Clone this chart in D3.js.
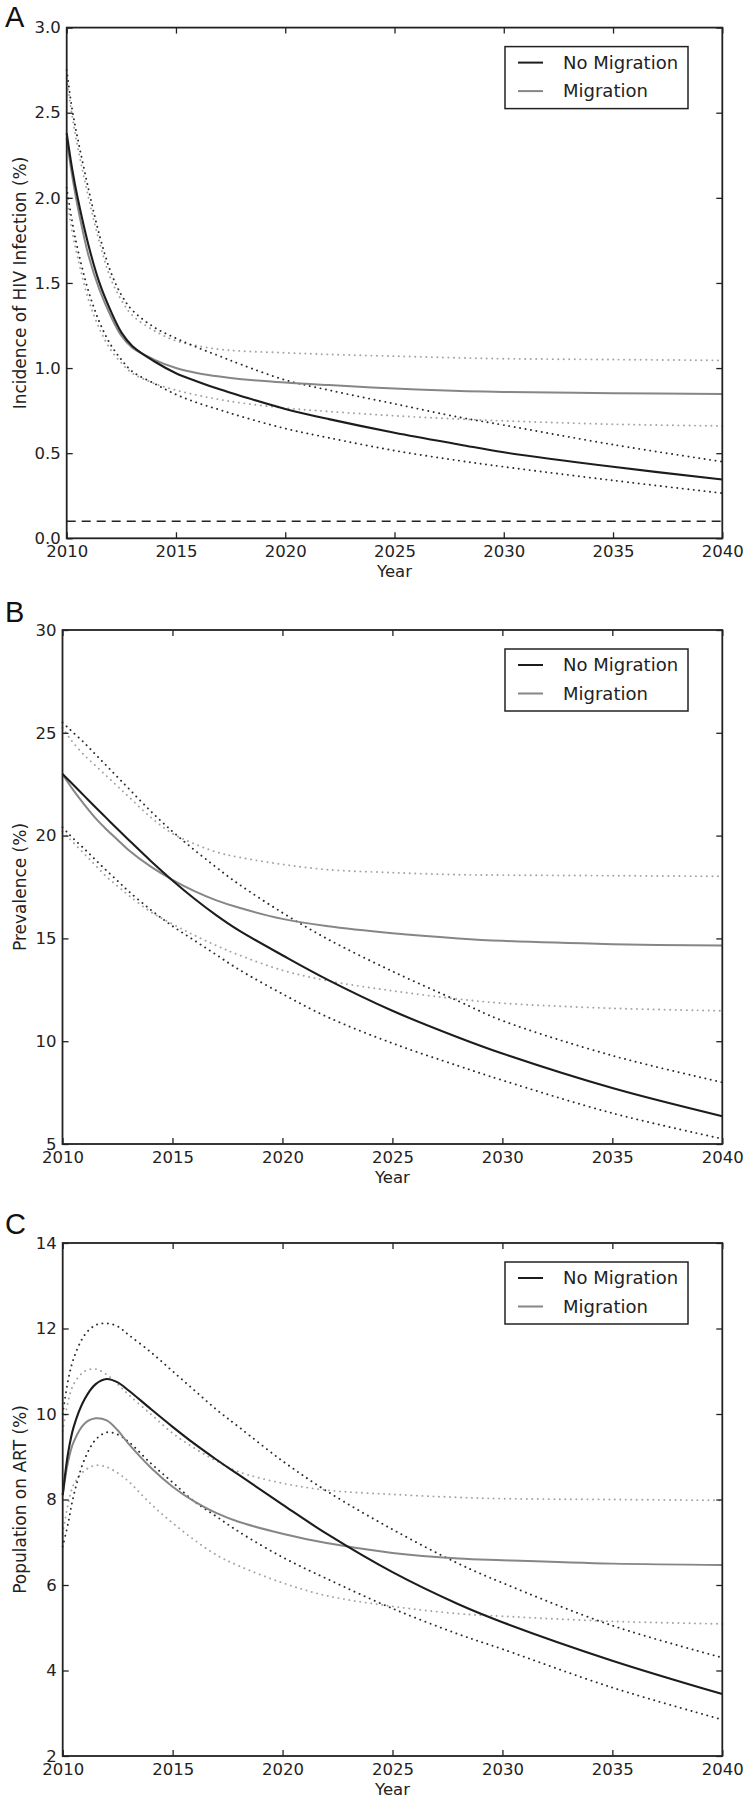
<!DOCTYPE html>
<html><head><meta charset="utf-8">
<script src="https://cdnjs.cloudflare.com/ajax/libs/d3/7.8.5/d3.min.js"></script>
<style>body{margin:0;background:#fff}svg{display:block}</style>
</head><body>
<svg id="chart" width="747" height="1800"></svg>
<script>
// ---------- data ----------
const years = [2010, 2010.25, 2010.5, 2011, 2011.5, 2012, 2012.5, 2013, 2014, 2015, 2016, 2017, 2018, 2020, 2022, 2025, 2028, 2030, 2035, 2040];
const xTicks = [2010, 2015, 2020, 2025, 2030, 2035, 2040];
const legendLabels = ["No Migration", "Migration"];

// Panel A: incidence of HIV infection (%)
const incNoMig   = [2.38, 2.17, 2.0, 1.72, 1.5, 1.34, 1.21, 1.13, 1.04, 0.97, 0.92, 0.875, 0.835, 0.76, 0.70, 0.62, 0.55, 0.505, 0.42, 0.345];
const incMig     = [2.35, 2.13, 1.95, 1.66, 1.46, 1.31, 1.19, 1.12, 1.05, 1.0, 0.97, 0.95, 0.935, 0.915, 0.90, 0.88, 0.865, 0.86, 0.852, 0.848];
const incNoMigHi = [2.75, 2.52, 2.35, 2.05, 1.78, 1.57, 1.43, 1.34, 1.24, 1.175, 1.12, 1.07, 1.02, 0.93, 0.87, 0.79, 0.71, 0.665, 0.55, 0.45];
const incMigHi   = [2.7, 2.48, 2.3, 2.0, 1.74, 1.53, 1.4, 1.31, 1.22, 1.16, 1.13, 1.11, 1.10, 1.09, 1.08, 1.07, 1.06, 1.055, 1.05, 1.045];
const incNoMigLo = [2.06, 1.86, 1.7, 1.45, 1.27, 1.14, 1.05, 0.98, 0.91, 0.845, 0.795, 0.755, 0.715, 0.645, 0.59, 0.515, 0.455, 0.42, 0.34, 0.265];
const incMigLo   = [2.0, 1.8, 1.65, 1.4, 1.23, 1.11, 1.03, 0.97, 0.91, 0.87, 0.84, 0.815, 0.795, 0.765, 0.745, 0.72, 0.70, 0.69, 0.67, 0.66];
const incTarget  = 0.1;
const incTicks   = [0, 0.5, 1.0, 1.5, 2.0, 2.5, 3.0];

// Panel B: prevalence (%)
const prevNoMig   = [23.0, 22.73, 22.46, 21.92, 21.38, 20.85, 20.32, 19.8, 18.78, 17.82, 16.93, 16.12, 15.4, 14.18, 13.02, 11.48, 10.18, 9.4, 7.72, 6.35];
const prevMig     = [23.0, 22.58, 22.2, 21.5, 20.85, 20.3, 19.8, 19.3, 18.5, 17.85, 17.3, 16.85, 16.5, 15.95, 15.6, 15.25, 15.0, 14.88, 14.72, 14.65];
const prevNoMigHi = [25.5, 25.25, 25.0, 24.5, 23.95, 23.4, 22.85, 22.3, 21.2, 20.2, 19.3, 18.45, 17.65, 16.25, 15.0, 13.4, 11.95, 11.0, 9.3, 8.0];
const prevMigHi   = [25.25, 24.85, 24.5, 23.9, 23.4, 22.9, 22.4, 21.9, 20.9, 20.1, 19.6, 19.2, 18.95, 18.6, 18.35, 18.2, 18.1, 18.08, 18.05, 18.02];
const prevNoMigLo = [20.4, 20.12, 19.85, 19.35, 18.82, 18.3, 17.8, 17.3, 16.4, 15.6, 14.9, 14.2, 13.5, 12.3, 11.2, 9.9, 8.8, 8.1, 6.5, 5.25];
const prevMigLo   = [20.2, 19.92, 19.65, 19.1, 18.55, 18.0, 17.55, 17.1, 16.3, 15.7, 15.15, 14.65, 14.2, 13.45, 12.95, 12.45, 12.05, 11.85, 11.6, 11.48];
const prevTicks   = [5, 10, 15, 20, 25, 30];

// Panel C: population on ART (%)
const artNoMig   = [8.1, 9.1, 9.7, 10.35, 10.7, 10.82, 10.74, 10.55, 10.12, 9.7, 9.3, 8.93, 8.58, 7.88, 7.2, 6.3, 5.55, 5.13, 4.23, 3.45];
const artMig     = [8.1, 8.9, 9.35, 9.78, 9.9, 9.85, 9.62, 9.3, 8.75, 8.3, 7.95, 7.68, 7.48, 7.2, 6.98, 6.75, 6.62, 6.58, 6.5, 6.47];
const artNoMigHi = [10.0, 10.8, 11.3, 11.85, 12.08, 12.12, 12.05, 11.85, 11.45, 11.0, 10.55, 10.1, 9.7, 8.9, 8.2, 7.3, 6.5, 6.05, 5.05, 4.3];
const artMigHi   = [9.6, 10.3, 10.7, 11.0, 11.05, 10.92, 10.7, 10.45, 10.0, 9.55, 9.2, 8.9, 8.65, 8.38, 8.22, 8.12, 8.05, 8.02, 8.0, 7.98];
const artNoMigLo = [6.9, 7.45, 8.1, 8.95, 9.4, 9.57, 9.52, 9.35, 8.85, 8.4, 7.95, 7.6, 7.25, 6.65, 6.15, 5.45, 4.85, 4.5, 3.6, 2.85];
const artMigLo   = [7.2, 7.9, 8.35, 8.68, 8.8, 8.76, 8.62, 8.42, 7.9, 7.45, 7.05, 6.7, 6.45, 6.05, 5.75, 5.5, 5.33, 5.27, 5.15, 5.09];
const artTicks   = [2, 4, 6, 8, 10, 12, 14];

// ---------- drawing ----------
const svg = d3.select("#chart");
const FONT = "'DejaVu Sans', sans-serif";
const TXT = "#222";

const styles = {
  migCI:   {stroke: "#a3a3a3", width: 1.9, dash: "0.1,5.4"},
  noMigCI: {stroke: "#2b2b2b", width: 1.9, dash: "0.1,5.4"},
  mig:     {stroke: "#868686", width: 2, dash: null},
  noMig:   {stroke: "#1c1c1c", width: 2.1, dash: null}
};

const panels = [
  {letter: "A", letterY: 27, yLabel: "Incidence of HIV Infection (%)", ticks: incTicks, fmt: d3.format(".1f"),
   top: 27.6, bottom: 538.3, left: 66.7, target: incTarget,
   series: [["migCI", incMigHi], ["migCI", incMigLo], ["noMigCI", incNoMigHi], ["noMigCI", incNoMigLo], ["mig", incMig], ["noMig", incNoMig]]},
  {letter: "B", letterY: 622, yLabel: "Prevalence (%)", ticks: prevTicks, fmt: d3.format("d"),
   top: 630, bottom: 1144, left: 62.5, target: null,
   series: [["migCI", prevMigHi], ["migCI", prevMigLo], ["noMigCI", prevNoMigHi], ["noMigCI", prevNoMigLo], ["mig", prevMig], ["noMig", prevNoMig]]},
  {letter: "C", letterY: 1234, yLabel: "Population on ART (%)", ticks: artTicks, fmt: d3.format("d"),
   top: 1243, bottom: 1756, left: 62.7, target: null,
   series: [["migCI", artMigHi], ["migCI", artMigLo], ["noMigCI", artNoMigHi], ["noMigCI", artNoMigLo], ["mig", artMig], ["noMig", artNoMig]]}
];
const RIGHT = 722.3;

panels.forEach(p => {
  const x = d3.scaleLinear().domain([2010, 2040]).range([p.left, RIGHT]);
  const y = d3.scaleLinear().domain([p.ticks[0], p.ticks[p.ticks.length - 1]]).range([p.bottom, p.top]);
  const g = svg.append("g");

  const line = d3.line().x((d, i) => x(years[i])).y(d => y(d)).curve(d3.curveCatmullRom.alpha(0.5));
  p.series.forEach(([key, vals]) => {
    const s = styles[key];
    g.append("path").attr("d", line(vals)).attr("fill", "none")
      .attr("stroke", s.stroke).attr("stroke-width", s.width)
      .attr("stroke-dasharray", s.dash).attr("stroke-linecap", s.dash ? "round" : "butt");
  });

  if (p.target !== null) {
    g.append("line").attr("x1", x(2010)).attr("x2", x(2040))
      .attr("y1", y(p.target)).attr("y2", y(p.target))
      .attr("stroke", "#222").attr("stroke-width", 1.6).attr("stroke-dasharray", "9,6");
  }

  // axes with inward ticks
  const styleAxis = sel => {
    sel.select(".domain").remove();
    sel.selectAll(".tick line").attr("stroke", "#222").attr("stroke-width", 1.3);
    sel.selectAll(".tick text").attr("font-family", FONT).attr("font-size", 16.5).attr("fill", TXT);
  };
  g.append("g").attr("transform", `translate(0,${p.bottom})`)
    .call(d3.axisBottom(x).tickValues(xTicks).tickFormat(d3.format("d")).tickSizeInner(-6).tickSizeOuter(0).tickPadding(7))
    .call(styleAxis);
  g.append("g").attr("transform", `translate(0,${p.top})`)
    .call(d3.axisTop(x).tickValues(xTicks).tickFormat("").tickSizeInner(-6).tickSizeOuter(0))
    .call(styleAxis);
  g.append("g").attr("transform", `translate(${p.left},0)`)
    .call(d3.axisLeft(y).tickValues(p.ticks).tickFormat(p.fmt).tickSizeInner(-6).tickSizeOuter(0).tickPadding(6))
    .call(styleAxis);
  g.append("g").attr("transform", `translate(${RIGHT},0)`)
    .call(d3.axisRight(y).tickValues(p.ticks).tickFormat("").tickSizeInner(-6).tickSizeOuter(0))
    .call(styleAxis);

  // frame
  g.append("rect").attr("x", p.left).attr("y", p.top)
    .attr("width", RIGHT - p.left).attr("height", p.bottom - p.top)
    .attr("fill", "none").attr("stroke", "#222").attr("stroke-width", 1.8);

  // axis labels
  g.append("text").attr("x", (p.left + RIGHT) / 2).attr("y", p.bottom + 33).attr("dy", "0.35em")
    .attr("text-anchor", "middle").attr("font-family", FONT).attr("font-size", 16.5).attr("fill", TXT).text("Year");
  g.append("text").attr("transform", `translate(20,${(p.top + p.bottom) / 2}) rotate(-90)`).attr("dy", "0.35em")
    .attr("text-anchor", "middle").attr("font-family", FONT).attr("font-size", 17).attr("fill", TXT).text(p.yLabel);

  // panel letter
  g.append("text").attr("x", 5).attr("y", p.letterY)
    .attr("font-family", "'Liberation Sans', Arial, sans-serif").attr("font-size", 29).attr("fill", "#111").text(p.letter);

  // legend
  const lg = g.append("g").attr("transform", `translate(505,${p.top + 19})`);
  lg.append("rect").attr("width", 183).attr("height", 62).attr("fill", "#fff").attr("stroke", "#222").attr("stroke-width", 1.5);
  [["noMig", 16], ["mig", 44.5]].forEach(([key, ry], i) => {
    lg.append("line").attr("x1", 13).attr("x2", 38).attr("y1", ry).attr("y2", ry)
      .attr("stroke", styles[key].stroke).attr("stroke-width", 2);
    lg.append("text").attr("x", 58).attr("y", ry).attr("dy", "0.35em")
      .attr("font-family", FONT).attr("font-size", 18).attr("fill", TXT).text(legendLabels[i]);
  });
});
</script>
</body></html>
